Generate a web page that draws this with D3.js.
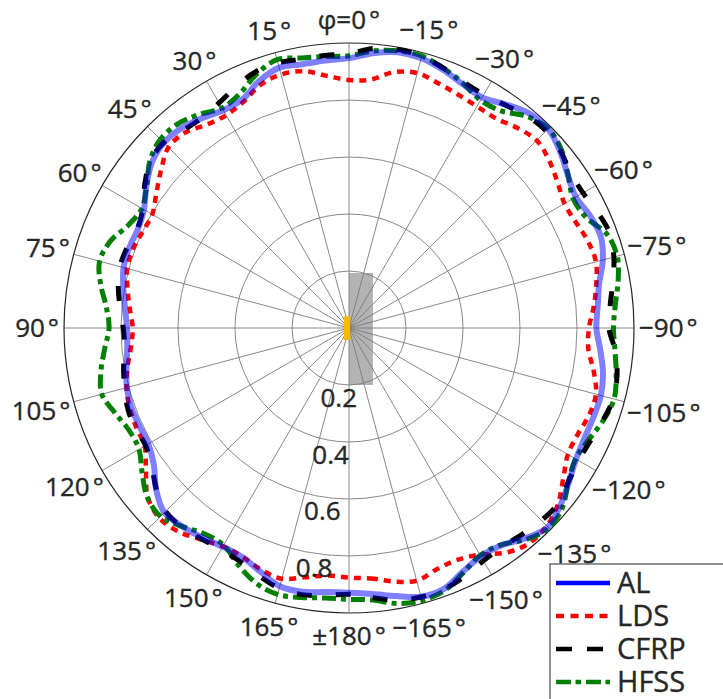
<!DOCTYPE html>
<html>
<head>
<meta charset="utf-8">
<script src="https://cdn.jsdelivr.net/npm/d3@7"></script>
<style>
  body { margin: 0; background: #fff; }
  svg { display: block; }
  text { font-family: "Open Sans", Lato, "DejaVu Sans", sans-serif; fill: #262626;
         stroke: #262626; stroke-width: 0.35px; }
</style>
</head>
<body>
<svg id="chart" width="723" height="699"></svg>
<script>
// Azimuth angle phi in degrees (0 = up, positive counter-clockwise)
const phi = [-180,-175,-170,-165,-160,-155,-150,-145,-140,-135,-130,-125,
             -120,-115,-110,-105,-100,-95,-90,-85,-80,-75,-70,-65,
             -60,-55,-50,-45,-40,-35,-30,-25,-20,-15,-10,-5,
             0,5,10,15,20,25,30,35,40,45,50,55,
             60,65,70,75,80,85,90,95,100,105,110,115,
             120,125,130,135,140,145,150,155,160,165,170,175];

// Normalised pattern magnitude per housing material
const AL = [0.929,0.937,0.955,0.976,0.974,0.944,0.925,0.931,0.963,0.987,0.968,0.942,
            0.920,0.912,0.913,0.915,0.905,0.885,0.868,0.876,0.891,0.922,0.940,0.933,
            0.919,0.937,0.966,0.988,0.983,0.958,0.934,0.944,0.964,0.980,0.982,0.968,
            0.947,0.942,0.940,0.946,0.922,0.885,0.882,0.899,0.915,0.919,0.903,0.868,
            0.831,0.818,0.821,0.819,0.804,0.789,0.779,0.781,0.793,0.807,0.813,0.812,
            0.813,0.836,0.883,0.916,0.909,0.898,0.886,0.887,0.910,0.938,0.940,0.930];

const LDS = [0.876,0.882,0.903,0.918,0.901,0.898,0.918,0.962,0.985,0.982,0.958,0.918,
             0.887,0.885,0.896,0.897,0.872,0.843,0.842,0.862,0.881,0.897,0.892,0.878,
             0.873,0.893,0.916,0.931,0.917,0.898,0.898,0.904,0.914,0.926,0.912,0.875,
             0.870,0.888,0.915,0.921,0.908,0.876,0.862,0.871,0.895,0.896,0.861,0.825,
             0.797,0.799,0.807,0.806,0.789,0.772,0.759,0.768,0.789,0.808,0.819,0.824,
             0.828,0.870,0.922,0.942,0.932,0.906,0.885,0.885,0.902,0.911,0.888,0.872];

const CFRP = [0.934,0.950,0.970,0.977,0.975,0.961,0.943,0.937,0.945,0.955,0.958,0.940,
              0.930,0.935,0.948,0.960,0.955,0.938,0.912,0.920,0.940,0.962,0.973,0.962,
              0.948,0.949,0.968,0.978,0.972,0.955,0.946,0.952,0.970,0.987,0.992,0.985,
              0.962,0.960,0.958,0.963,0.957,0.935,0.912,0.900,0.905,0.920,0.910,0.875,
              0.835,0.820,0.828,0.832,0.822,0.806,0.792,0.790,0.803,0.815,0.826,0.828,
              0.824,0.845,0.882,0.910,0.912,0.903,0.897,0.904,0.925,0.945,0.950,0.942];

const HFSS = [0.952,0.958,0.982,0.990,0.980,0.948,0.921,0.929,0.968,0.993,0.978,0.940,
              0.918,0.928,0.949,0.963,0.952,0.937,0.928,0.938,0.959,0.974,0.963,0.918,
              0.908,0.938,0.973,0.989,0.970,0.930,0.923,0.947,0.970,0.988,0.988,0.976,
              0.955,0.956,0.962,0.975,0.948,0.907,0.891,0.915,0.935,0.936,0.912,0.867,
              0.839,0.854,0.891,0.906,0.885,0.855,0.842,0.861,0.884,0.898,0.873,0.851,
              0.851,0.886,0.924,0.935,0.910,0.882,0.880,0.918,0.953,0.968,0.960,0.951];

// Axis ticks
const thetaTicks = [0,15,30,45,60,75,90,105,120,135,150,165,180,
                    -165,-150,-135,-120,-105,-90,-75,-60,-45,-30,-15];
const rTicks = [0.2, 0.4, 0.6, 0.8, 1.0];
const rTickLabels = ["0.2", "0.4", "0.6", "0.8"];
const seriesNames = ["AL", "LDS", "CFRP", "HFSS"];

const W = 723, H = 699;
const cx = 349, cy = 328, R = 285;
const r = d3.scaleLinear().domain([0, 1]).range([0, R]);
const rad = d => d * Math.PI / 180;
const pos = (deg, v) => [cx - r(v) * Math.sin(rad(deg)), cy - r(v) * Math.cos(rad(deg))];

const styles = {
  AL:   { stroke: "#0000ff", width: 6,   dash: null,       opacity: 0.5, legendDash: null },
  LDS:  { stroke: "#ff0000", width: 4.5, dash: "7,6",      opacity: 1,   legendDash: "8,6.5" },
  CFRP: { stroke: "#000000", width: 5,   dash: "15,24",    opacity: 1,   legendDash: "16,15" },
  HFSS: { stroke: "#008000", width: 5,   dash: "14,5,5,5", opacity: 1,   legendDash: "15,4.5,5.5,5" }
};
const valuesOf = { AL, LDS, CFRP, HFSS };

const svg = d3.select("#chart");
svg.append("rect").attr("width", W).attr("height", H).attr("fill", "#fff");

// Radiating element footprint (grey block) behind the grid
svg.append("rect")
  .attr("x", cx + r(0)).attr("y", cy - r(0.193))
  .attr("width", r(0.084)).attr("height", r(0.393))
  .attr("fill", "#b3b3b3");

// Polar grid: spokes every 15 degrees and range rings
const grid = svg.append("g");
d3.range(0, 360, 15).forEach(a => {
  const [x, y] = pos(a, 1);
  grid.append("line")
    .attr("x1", cx).attr("y1", cy).attr("x2", x).attr("y2", y)
    .attr("stroke", "#7a7a7a").attr("stroke-width", 0.9);
});
rTicks.filter(v => v < 1).forEach(v => {
  grid.append("circle")
    .attr("cx", cx).attr("cy", cy).attr("r", r(v))
    .attr("fill", "none").attr("stroke", "#7a7a7a").attr("stroke-width", 0.9);
});
grid.append("circle")
  .attr("cx", cx).attr("cy", cy).attr("r", r(1))
  .attr("fill", "none").attr("stroke", "#262626").attr("stroke-width", 1.2);

// Feed marker at the origin
svg.append("rect")
  .attr("x", cx - r(0.018)).attr("y", cy - r(0.041))
  .attr("width", r(0.022)).attr("height", r(0.083))
  .attr("fill", "#f5b800");

// Pattern curves
const radial = d3.lineRadial()
  .angle(d => -rad(d[0]))
  .radius(d => r(d[1]))
  .curve(d3.curveCatmullRomClosed.alpha(0.5));

const curves = svg.append("g").attr("transform", `translate(${cx},${cy})`);
["LDS", "HFSS", "CFRP", "AL"].forEach(name => {
  const st = styles[name];
  curves.append("path")
    .datum(phi.map((p, i) => [p, valuesOf[name][i]]))
    .attr("d", radial)
    .attr("fill", "none")
    .attr("stroke", st.stroke)
    .attr("stroke-width", st.width)
    .attr("stroke-opacity", st.opacity)
    .attr("stroke-dasharray", st.dash)
    .attr("stroke-linejoin", "round");
});

// Angular tick labels
const thetaText = t => t === 0 ? "φ=0" : t === 180 ? "±180" : (t < 0 ? "\u2212" + (-t) : String(t));
const tl = svg.append("g").attr("font-size", 26);
thetaTicks.forEach(t => {
  const txt = tl.append("text").attr("text-anchor", "middle");
  txt.append("tspan").text(thetaText(t));
  txt.append("tspan").attr("dx", 3).text("°");
  const w = txt.node().getBBox().width;
  const s = Math.sin(rad(t)), c = Math.cos(rad(t));
  const D = r(1) + 5 + Math.sqrt((s * w / 2) ** 2 + (c * 18) ** 2);
  txt.attr("x", cx - D * s).attr("y", cy - D * c).attr("dy", "0.36em");
});

// Radial tick labels along a ray just left of the bottom spoke
const rAng = 171.7;
const rl = svg.append("g").attr("font-size", 26);
rTickLabels.forEach((lab, i) => {
  const v = rTicks[i];
  const d = r(v) + 13.7;
  rl.append("text")
    .attr("text-anchor", "middle")
    .attr("x", cx - d * Math.sin(rad(rAng)))
    .attr("y", cy - d * Math.cos(rad(rAng)))
    .attr("dy", "0.36em")
    .text(lab);
});

// Legend
const lg = svg.append("g").attr("transform", "translate(550,564)");
lg.append("rect")
  .attr("x", 0).attr("y", 0).attr("width", 200).attr("height", 160)
  .attr("fill", "#fff").attr("stroke", "#262626").attr("stroke-width", 1);
seriesNames.forEach((name, i) => {
  const st = styles[name];
  const y = 19 + i * 33;
  lg.append("line")
    .attr("x1", 6).attr("x2", 60).attr("y1", y).attr("y2", y)
    .attr("stroke", st.stroke).attr("stroke-width", 4.5)
    .attr("stroke-dasharray", st.legendDash);
  lg.append("text")
    .attr("x", 67).attr("y", y).attr("dy", "0.36em")
    .attr("font-size", 29)
    .text(name);
});
</script>
</body>
</html>
